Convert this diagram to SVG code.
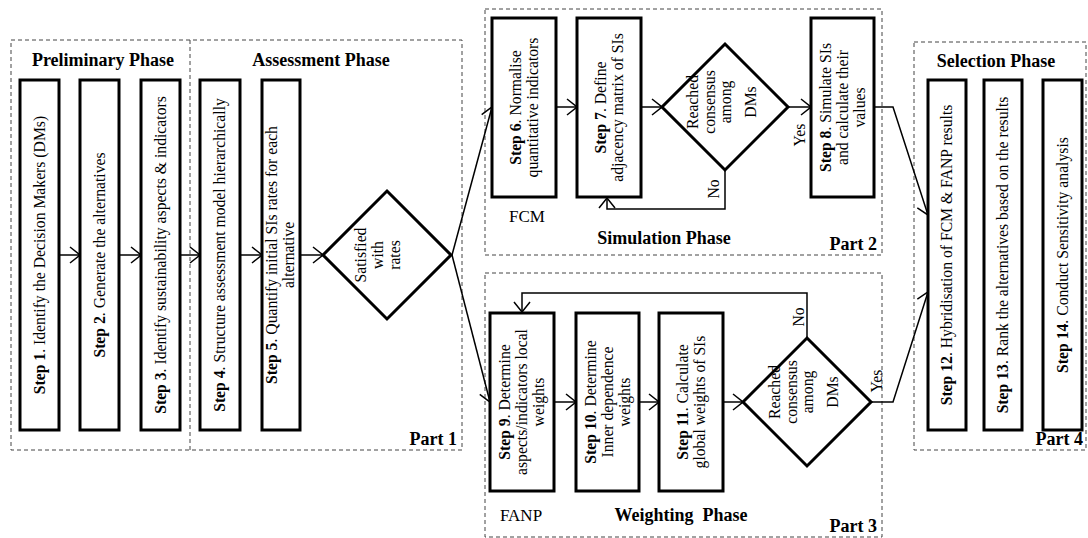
<svg xmlns="http://www.w3.org/2000/svg" width="1088" height="538" viewBox="0 0 1088 538">
<style>
text{font-family:"Liberation Serif","Times New Roman",serif;fill:#000}
.t{font-size:15.7px}
.b{font-weight:bold}
.title{font-size:18px;font-weight:bold}
.lbl{font-size:17px}
.part{fill:none;stroke:#444;stroke-width:1;stroke-dasharray:4,3}
.box{fill:#fff;stroke:#000;stroke-width:3}
.dia{fill:#fff;stroke:#000;stroke-width:3}
.c{fill:none;stroke:#000;stroke-width:1.5}
</style>
<defs>
<marker id="arr" markerWidth="12" markerHeight="18" refX="11" refY="9" orient="auto" markerUnits="userSpaceOnUse">
<path d="M1,1 L11,9 L1,17" fill="none" stroke="#000" stroke-width="1.5"/>
</marker>
</defs>
<rect width="1088" height="538" fill="#fff"/>

<g id="parts">
<rect class="part" x="11" y="40" width="451" height="410"/>
<line class="part" x1="190" y1="40" x2="190" y2="450"/>
<rect class="part" x="485" y="9" width="397" height="246"/>
<rect class="part" x="485" y="273" width="397" height="264"/>
<rect class="part" x="914" y="42" width="172" height="408"/>
<text class="title" x="103" y="66" text-anchor="middle">Preliminary Phase</text>
<text class="title" x="321" y="66" text-anchor="middle">Assessment Phase</text>
<text class="title" x="457" y="445" text-anchor="end">Part 1</text>
<text class="title" x="664" y="244" text-anchor="middle">Simulation Phase</text>
<text class="lbl" x="527" y="222" text-anchor="middle">FCM</text>
<text class="title" x="877" y="250" text-anchor="end">Part 2</text>
<text class="lbl" x="521" y="521" text-anchor="middle">FANP</text>
<text class="title" x="681" y="521" text-anchor="middle" style="white-space:pre">Weighting  Phase</text>
<text class="title" x="877" y="532" text-anchor="end">Part 3</text>
<text class="title" x="996" y="67" text-anchor="middle">Selection Phase</text>
<text class="title" x="1083" y="445" text-anchor="end">Part 4</text>
</g>

<g id="connectors">
<line class="c" x1="59" y1="255" x2="80" y2="255" marker-end="url(#arr)"/>
<line class="c" x1="119" y1="255" x2="141" y2="255" marker-end="url(#arr)"/>
<line class="c" x1="180" y1="255" x2="200" y2="255" marker-end="url(#arr)"/>
<line class="c" x1="240" y1="255" x2="262" y2="255" marker-end="url(#arr)"/>
<line class="c" x1="300" y1="255" x2="323" y2="255" marker-end="url(#arr)"/>
<line class="c" x1="452" y1="255" x2="492" y2="107" marker-end="url(#arr)"/>
<line class="c" x1="452" y1="255" x2="490" y2="402" marker-end="url(#arr)"/>
<line class="c" x1="556" y1="107" x2="577" y2="107" marker-end="url(#arr)"/>
<line class="c" x1="641" y1="107" x2="662" y2="107" marker-end="url(#arr)"/>
<line class="c" x1="788" y1="107" x2="811" y2="107" marker-end="url(#arr)"/>
<polyline class="c" points="725,171 725,209 607,209 607,198" marker-end="url(#arr)"/>
<polyline class="c" points="874,107 893,107 928,215" marker-end="url(#arr)"/>
<line class="c" x1="554" y1="402" x2="576" y2="402" marker-end="url(#arr)"/>
<line class="c" x1="639" y1="402" x2="659" y2="402" marker-end="url(#arr)"/>
<line class="c" x1="723" y1="402" x2="743" y2="402" marker-end="url(#arr)"/>
<polyline class="c" points="807,338 807,293 522,293 522,312" marker-end="url(#arr)"/>
<polyline class="c" points="871,402 893,402 928,292" marker-end="url(#arr)"/>
<text class="t" transform="translate(805,135) rotate(-90)" text-anchor="middle">Yes</text>
<text class="t" transform="translate(719,189) rotate(-90)" text-anchor="middle">No</text>
<text class="t" transform="translate(804,317) rotate(-90)" text-anchor="middle">No</text>
<text class="t" transform="translate(882,381) rotate(-90)" text-anchor="middle">Yes</text>
</g>

<g id="step1">
<rect class="box" x="20" y="80" width="39" height="350"/>
<text class="t" transform="translate(44.9,255) rotate(-90)" text-anchor="middle"><tspan class="b">Step 1</tspan>. Identify the Decision Makers (DMs)</text>
</g>
<g id="step2">
<rect class="box" x="80" y="80" width="39" height="350"/>
<text class="t" transform="translate(104.9,255) rotate(-90)" text-anchor="middle"><tspan class="b">Step 2</tspan>. Generate the alternatives</text>
</g>
<g id="step3">
<rect class="box" x="141" y="80" width="39" height="350"/>
<text class="t" transform="translate(165.9,255) rotate(-90)" text-anchor="middle"><tspan class="b">Step 3</tspan>. Identify sustainability aspects &amp; indicators</text>
</g>
<g id="step4">
<rect class="box" x="200" y="80" width="40" height="350"/>
<text class="t" transform="translate(225.4,255) rotate(-90)" text-anchor="middle"><tspan class="b">Step 4</tspan>. Structure assessment model hierarchically</text>
</g>
<g id="step5">
<rect class="box" x="262" y="80" width="38" height="350"/>
<text class="t" transform="translate(277,255) rotate(-90)" text-anchor="middle"><tspan class="b">Step 5</tspan>. Quantify initial SIs rates for each</text>
<text class="t" transform="translate(294,255) rotate(-90)" text-anchor="middle">alternative</text>
</g>
<g id="d1">
<polygon class="dia" points="387,191 451,255 387,319 323,255"/>
<text class="t" transform="translate(366,255) rotate(-90)" text-anchor="middle">Satisfied</text>
<text class="t" transform="translate(383,255) rotate(-90)" text-anchor="middle">with</text>
<text class="t" transform="translate(400,255) rotate(-90)" text-anchor="middle">rates</text>
</g>

<g id="step6">
<rect class="box" x="492" y="18" width="64" height="179"/>
<text class="t" transform="translate(520.9,107.5) rotate(-90)" text-anchor="middle"><tspan class="b">Step 6</tspan>. Normalise</text>
<text class="t" transform="translate(537.9,107.5) rotate(-90)" text-anchor="middle">quantitative indicators</text>
</g>
<g id="step7">
<rect class="box" x="577" y="18" width="64" height="179"/>
<text class="t" transform="translate(605.9,107.5) rotate(-90)" text-anchor="middle"><tspan class="b">Step 7</tspan>. Define</text>
<text class="t" transform="translate(622.9,107.5) rotate(-90)" text-anchor="middle">adjacency matrix of SIs</text>
</g>
<g id="d2">
<polygon class="dia" points="725,44 788,107 725,170 662,107"/>
<text class="t" transform="translate(698,102) rotate(-90)" text-anchor="middle">Reached</text>
<text class="t" transform="translate(715,102) rotate(-90)" text-anchor="middle">consensus</text>
<text class="t" transform="translate(731,102) rotate(-90)" text-anchor="middle">among</text>
<text class="t" transform="translate(756,102) rotate(-90)" text-anchor="middle">DMs</text>
</g>
<g id="step8">
<rect class="box" x="811" y="18" width="63" height="179"/>
<text class="t" transform="translate(830.9,107.5) rotate(-90)" text-anchor="middle"><tspan class="b">Step 8</tspan>. Simulate SIs</text>
<text class="t" transform="translate(847.9,107.5) rotate(-90)" text-anchor="middle">and calculate their</text>
<text class="t" transform="translate(864.9,107.5) rotate(-90)" text-anchor="middle">values</text>
</g>

<g id="step9">
<rect class="box" x="490" y="313" width="64" height="178"/>
<text class="t" transform="translate(510.4,402) rotate(-90)" text-anchor="middle"><tspan class="b">Step 9</tspan>. Determine</text>
<text class="t" transform="translate(527.4,402) rotate(-90)" text-anchor="middle">aspects/indicators local</text>
<text class="t" transform="translate(544.4,402) rotate(-90)" text-anchor="middle">weights</text>
</g>
<g id="step10">
<rect class="box" x="576" y="313" width="63" height="178"/>
<text class="t" transform="translate(595.9,402) rotate(-90)" text-anchor="middle"><tspan class="b">Step 10</tspan>. Determine</text>
<text class="t" transform="translate(612.9,402) rotate(-90)" text-anchor="middle">Inner dependence</text>
<text class="t" transform="translate(629.9,402) rotate(-90)" text-anchor="middle">weights</text>
</g>
<g id="step11">
<rect class="box" x="659" y="313" width="64" height="178"/>
<text class="t" transform="translate(687.9,402) rotate(-90)" text-anchor="middle"><tspan class="b">Step 11</tspan>. Calculate</text>
<text class="t" transform="translate(704.9,402) rotate(-90)" text-anchor="middle">global weights of SIs</text>
</g>
<g id="d3">
<polygon class="dia" points="807,338 871,402 807,466 743,402"/>
<text class="t" transform="translate(780,392) rotate(-90)" text-anchor="middle">Reached</text>
<text class="t" transform="translate(797,392) rotate(-90)" text-anchor="middle">consensus</text>
<text class="t" transform="translate(813,392) rotate(-90)" text-anchor="middle">among</text>
<text class="t" transform="translate(838,392) rotate(-90)" text-anchor="middle">DMs</text>
</g>

<g id="step12">
<rect class="box" x="928" y="80" width="38" height="350"/>
<text class="t" transform="translate(952.4,255) rotate(-90)" text-anchor="middle"><tspan class="b">Step 12</tspan>. Hybridisation of FCM &amp; FANP results</text>
</g>
<g id="step13">
<rect class="box" x="984" y="80" width="38" height="350"/>
<text class="t" transform="translate(1008.4,255) rotate(-90)" text-anchor="middle"><tspan class="b">Step 13</tspan>. Rank the alternatives based on the results</text>
</g>
<g id="step14">
<rect class="box" x="1043" y="80" width="39" height="350"/>
<text class="t" transform="translate(1067.9,255) rotate(-90)" text-anchor="middle"><tspan class="b">Step 14</tspan>. Conduct Sensitivity analysis</text>
</g>
</svg>
